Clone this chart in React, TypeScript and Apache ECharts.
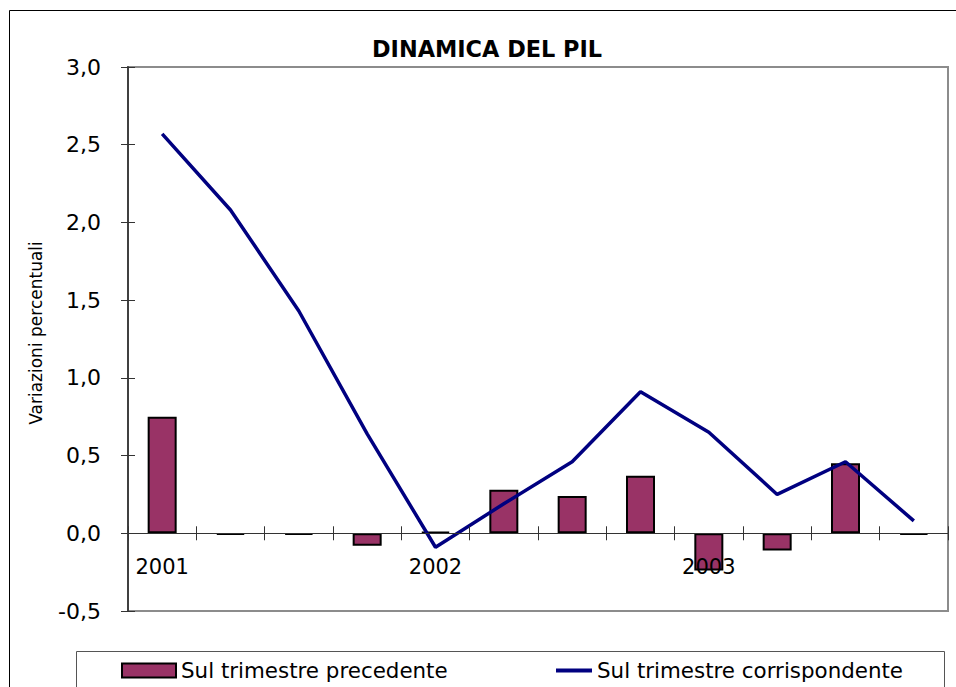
import React, { useEffect, useRef } from 'react';
import * as echarts from 'echarts';

const quarters = [
  'I 2001', 'II 2001', 'III 2001', 'IV 2001',
  'I 2002', 'II 2002', 'III 2002', 'IV 2002',
  'I 2003', 'II 2003', 'III 2003', 'IV 2003',
];
const yearLabels = ['2001', '', '', '', '2002', '', '', '', '2003', '', '', ''];
const sulPrecedente = [0.75, -0.01, -0.01, -0.08, 0.01, 0.28, 0.24, 0.37, -0.24, -0.11, 0.45, -0.01];
const sulCorrispondente = [2.57, 2.08, 1.43, 0.64, -0.09, 0.19, 0.46, 0.91, 0.65, 0.25, 0.46, 0.08];
const yMin = -0.5;
const yMax = 3.0;
const yStep = 0.5;

const FONT = '"DejaVu Sans", Verdana, sans-serif';

export default function App() {
  const ref = useRef<HTMLDivElement>(null);

  useEffect(() => {
    if (!ref.current) return;
    const chart = echarts.init(ref.current, undefined, { renderer: 'svg' });
    const option: any = {
      animation: false,
      backgroundColor: '#ffffff',
      title: {
        text: 'DINAMICA DEL PIL',
        left: 372,
        top: 38,
        padding: 0,
        textStyle: { fontFamily: FONT, fontSize: 22.4, fontWeight: 'bold', color: '#000' },
      },
      graphic: [
        {
          type: 'rect',
          z: -10,
          shape: { x: 9.5, y: 10.5, width: 1000, height: 1000 },
          style: { fill: 'none', stroke: '#000', lineWidth: 1 },
        },
        {
          type: 'rect',
          z: -10,
          shape: { x: 76.5, y: 651.5, width: 868, height: 100 },
          style: { fill: 'none', stroke: '#555', lineWidth: 1 },
        },
      ],
      legend: [
        {
          data: [{ name: 'Sul trimestre precedente', icon: 'rect' }],
          left: 121,
          top: 660,
          padding: 0,
          itemWidth: 54,
          itemHeight: 14,
          textStyle: { fontFamily: FONT, fontSize: 21.4, color: '#000' },
        },
        {
          data: [{ name: 'Sul trimestre corrispondente', icon: 'rect' }],
          left: 556,
          top: 660,
          padding: 0,
          itemWidth: 36,
          itemHeight: 4,
          textStyle: { fontFamily: FONT, fontSize: 21.4, color: '#000' },
        },
      ],
      grid: {
        left: 128,
        top: 67,
        right: 8,
        bottom: 76,
        show: true,
        borderColor: '#8c8c8c',
        borderWidth: 2,
        backgroundColor: 'transparent',
      },
      xAxis: [
        {
          type: 'category',
          data: quarters,
          position: 'bottom',
          z: 5,
          axisLine: { onZero: true, onZeroAxisIndex: 0, lineStyle: { color: '#333', width: 1 } },
          axisTick: { show: true, inside: false, length: 7, lineStyle: { color: '#333' } },
          axisLabel: {
            interval: 0,
            margin: -55,
            fontFamily: FONT,
            fontSize: 21,
            color: '#000',
            formatter: (_v: string, i: number) => yearLabels[i],
          },
        },
        {
          type: 'category',
          data: quarters,
          position: 'bottom',
          z: 5,
          axisLine: { show: false, onZero: true, onZeroAxisIndex: 0 },
          axisTick: { show: true, inside: true, length: 7, lineStyle: { color: '#333' } },
          axisLabel: { show: false },
        },
      ],
      yAxis: [
        {
          type: 'value',
          min: yMin,
          max: yMax,
          interval: yStep,
          position: 'left',
          name: 'Variazioni percentuali',
          nameLocation: 'middle',
          nameRotate: 90,
          nameGap: 84,
          nameTextStyle: { fontFamily: FONT, fontSize: 17, color: '#000', padding: [0, 0, 0, 12] },
          axisLine: { show: true, onZero: false, lineStyle: { color: '#404040', width: 2 } },
          axisTick: { show: true, inside: false, length: 7, lineStyle: { color: '#333' } },
          splitLine: { show: false },
          axisLabel: {
            margin: 27,
            fontFamily: FONT,
            fontSize: 22,
            color: '#000',
            formatter: (v: number) => v.toFixed(1).replace('.', ','),
          },
        },
        {
          type: 'value',
          min: yMin,
          max: yMax,
          interval: yStep,
          position: 'left',
          axisLine: { show: false, onZero: false },
          axisTick: { show: true, inside: true, length: 7, lineStyle: { color: '#333' } },
          splitLine: { show: false },
          axisLabel: { show: false },
        },
      ],
      series: [
        {
          name: 'Sul trimestre precedente',
          type: 'bar',
          data: sulPrecedente,
          barWidth: 29,
          itemStyle: { color: '#993366', borderColor: '#000', borderWidth: 2 },
        },
        {
          name: 'Sul trimestre corrispondente',
          type: 'line',
          data: sulCorrispondente,
          color: '#000080',
          showSymbol: false,
          symbol: 'none',
          lineStyle: { color: '#000080', width: 3.5 },
          itemStyle: { color: '#000080' },
          z: 4,
        },
      ],
    };
    chart.setOption(option);
    return () => chart.dispose();
  }, []);

  return (
    <div
      ref={ref}
      style={{ position: 'absolute', left: 0, top: 0, width: 956, height: 687 }}
    />
  );
}
